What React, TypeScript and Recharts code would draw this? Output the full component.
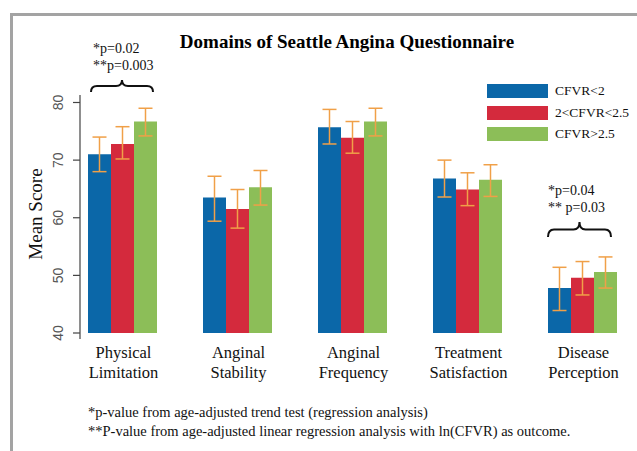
import React from "react";
import { BarChart, Bar, XAxis, YAxis, ErrorBar } from "recharts";

const categories = [
  "Physical Limitation",
  "Anginal Stability",
  "Anginal Frequency",
  "Treatment Satisfaction",
  "Disease Perception",
];
const seriesNames = ["CFVR<2", "2<CFVR<2.5", "CFVR>2.5"];

const lowMean = [71.0, 63.5, 75.7, 66.8, 47.8];
const lowLower = [68.0, 59.4, 72.8, 63.6, 43.9];
const lowUpper = [74.0, 67.2, 78.8, 70.0, 51.4];

const midMean = [72.8, 61.5, 73.9, 64.9, 49.6];
const midLower = [70.2, 58.2, 71.2, 62.1, 46.6];
const midUpper = [75.8, 64.9, 76.7, 67.8, 52.4];

const highMean = [76.7, 65.3, 76.7, 66.6, 50.6];
const highLower = [74.2, 62.2, 74.2, 63.7, 47.8];
const highUpper = [79.0, 68.2, 79.0, 69.2, 53.2];

const yTicks = [40, 50, 60, 70, 80];

const colors = ["#0b67a8", "#d42a3d", "#8cbe58"];
const errColor = "#f0a048";

const data = categories.map((c, i) => ({
  name: c,
  a: lowMean[i],
  aErr: [lowMean[i] - lowLower[i], lowUpper[i] - lowMean[i]],
  b: midMean[i],
  bErr: [midMean[i] - midLower[i], midUpper[i] - midMean[i]],
  c: highMean[i],
  cErr: [highMean[i] - highLower[i], highUpper[i] - highMean[i]],
}));

const serif = "'Liberation Serif', 'Times New Roman', serif";

const XTick = (props: any) => {
  const { x, y, payload } = props;
  const words = String(payload.value).split(" ");
  return (
    <text
      x={x + 1}
      y={y}
      textAnchor="middle"
      fontFamily={serif}
      fontSize={16.5}
      fill="#111"
    >
      {words.map((w, i) => (
        <tspan key={i} x={x + 1} dy={i === 0 ? 17 : 20}>
          {w}
        </tspan>
      ))}
    </text>
  );
};

const YTick = (props: any) => {
  const { x, y, payload } = props;
  return (
    <text
      x={x}
      y={y}
      transform={`rotate(-90, ${x}, ${y})`}
      textAnchor="middle"
      fontFamily="'Liberation Sans Narrow', 'Liberation Sans', Arial, sans-serif"
      fontSize={14}
      fill="#555"
    >
      {payload.value}
    </text>
  );
};

const LegendBox = () => (
  <div
    style={{
      position: "absolute",
      left: 487,
      top: 84,
      fontFamily: serif,
      fontSize: 13.5,
      color: "#111",
    }}
  >
    {seriesNames.map((n, i) => (
      <div
        key={n}
        style={{ display: "flex", alignItems: "center", height: 14, marginBottom: 7.5 }}
      >
        <div style={{ width: 61, height: 14, background: colors[i], marginRight: 7 }} />
        <span style={{ lineHeight: "14px", whiteSpace: "nowrap" }}>{n}</span>
      </div>
    ))}
  </div>
);

const brace = (x1: number, x2: number, yt: number, yb: number) => {
  const ym = (yt + yb) / 2;
  const xm = (x1 + x2) / 2;
  const r = 6;
  return `M ${x1} ${yb} Q ${x1} ${ym} ${x1 + r} ${ym} L ${xm - r} ${ym} Q ${xm} ${ym} ${xm} ${yt} Q ${xm} ${ym} ${xm + r} ${ym} L ${x2 - r} ${ym} Q ${x2} ${ym} ${x2} ${yb}`;
};

export default function App() {
  return (
    <div style={{ position: "absolute", left: 0, top: 0, width: 637, height: 451, background: "#fff", overflow: "hidden" }}>
      <BarChart
        width={637}
        height={451}
        data={data}
        margin={{ top: 95, right: 0, bottom: 58, left: 20 }}
        barCategoryGap={23}
        barGap={0}
      >
        <XAxis
          dataKey="name"
          axisLine={false}
          tickLine={false}
          interval={0}
          padding={{ left: -15, right: -3 }}
          height={60}
          tick={<XTick />}
        />
        <YAxis
          domain={[40, 81.3]}
          ticks={yTicks}
          allowDataOverflow
          width={60}
          axisLine={{ stroke: "#444", strokeWidth: 1.2 }}
          tickLine={{ stroke: "#444", strokeWidth: 1.2 }}
          tickSize={7}
          tickMargin={10}
          tick={<YTick />}
        />
        <Bar dataKey="a" name={seriesNames[0]} fill={colors[0]} isAnimationActive={false}>
          <ErrorBar dataKey="aErr" width={7} stroke={errColor} strokeWidth={1.5} direction="y" />
        </Bar>
        <Bar dataKey="b" name={seriesNames[1]} fill={colors[1]} isAnimationActive={false}>
          <ErrorBar dataKey="bErr" width={7} stroke={errColor} strokeWidth={1.5} direction="y" />
        </Bar>
        <Bar dataKey="c" name={seriesNames[2]} fill={colors[2]} isAnimationActive={false}>
          <ErrorBar dataKey="cErr" width={7} stroke={errColor} strokeWidth={1.5} direction="y" />
        </Bar>
      </BarChart>
      <LegendBox />
      <svg
        width={637}
        height={451}
        style={{ position: "absolute", left: 0, top: 0, pointerEvents: "none" }}
      >
        <rect x={10} y={13} width={627} height={3} fill="#a3a3a3" />
        <rect x={10} y={13} width={3} height={438} fill="#a3a3a3" />
        <line x1={80} y1={333} x2={80} y2={339} stroke="#444" strokeWidth={1.2} />
        <text x={347} y={48} textAnchor="middle" fontFamily={serif} fontWeight="bold" fontSize={19} fill="#000">
          Domains of Seattle Angina Questionnaire
        </text>
        <text
          x={42}
          y={214}
          transform="rotate(-90, 42, 214)"
          textAnchor="middle"
          fontFamily={serif}
          fontSize={19}
          fill="#111"
        >
          Mean Score
        </text>
        <text x={93} y={53} fontFamily={serif} fontSize={14} fill="#111">*p=0.02</text>
        <text x={93} y={70} fontFamily={serif} fontSize={14} fill="#111">**p=0.003</text>
        <path d={brace(91, 153, 80, 92)} fill="none" stroke="#111" strokeWidth={2} />
        <text x={548} y={195} fontFamily={serif} fontSize={14} fill="#111">*p=0.04</text>
        <text x={548} y={212} fontFamily={serif} fontSize={14} fill="#111">** p=0.03</text>
        <path d={brace(548, 611, 222, 237)} fill="none" stroke="#111" strokeWidth={2} />
        <text x={88} y={417} fontFamily={serif} fontSize={14.5} fill="#111">
          *p-value from age-adjusted trend test (regression analysis)
        </text>
        <text x={88} y={436} fontFamily={serif} fontSize={14.5} fill="#111">
          **P-value from age-adjusted linear regression analysis with ln(CFVR) as outcome.
        </text>
      </svg>
    </div>
  );
}
